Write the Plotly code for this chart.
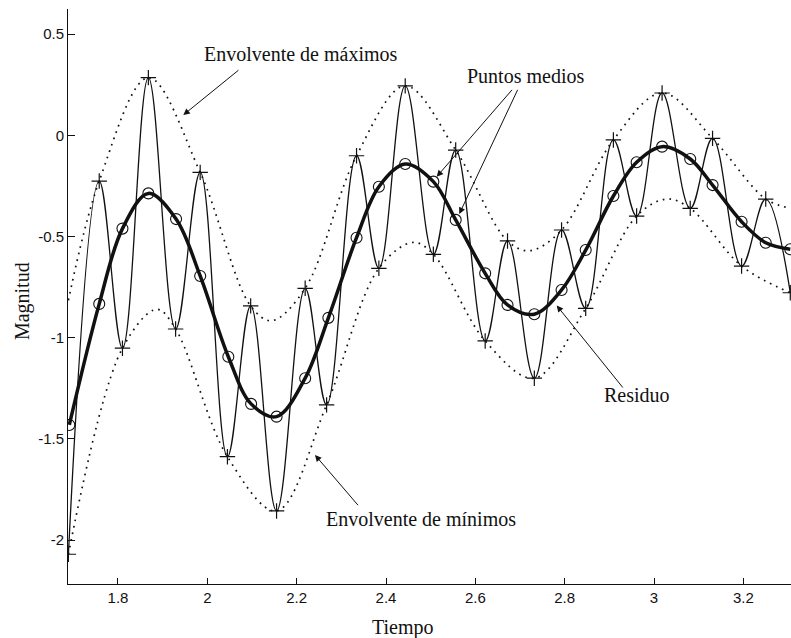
import plotly.graph_objects as go

# Señal: extremos (incluye los puntos extremos del intervalo)
t_extremos = [1.689, 1.758, 1.810, 1.868, 1.929, 1.984, 2.045, 2.097, 2.155, 2.219,
              2.267, 2.334, 2.384, 2.443, 2.506, 2.556, 2.622, 2.672, 2.732, 2.793,
              2.847, 2.909, 2.961, 3.018, 3.081, 3.131, 3.196, 3.250, 3.305]
y_extremos = [-2.070, -0.226, -1.052, 0.285, -0.957, -0.183, -1.588, -0.843, -1.856, -0.756,
              -1.332, -0.101, -0.657, 0.244, -0.588, -0.073, -1.016, -0.522, -1.200, -0.468,
              -0.855, -0.023, -0.399, 0.209, -0.361, -0.015, -0.646, -0.315, -0.778]

# Puntos medios (residuo)
t_medios = [1.691, 1.758, 1.810, 1.868, 1.930, 1.984, 2.047, 2.098, 2.155, 2.219,
            2.271, 2.334, 2.384, 2.443, 2.506, 2.556, 2.622, 2.672, 2.732, 2.793,
            2.847, 2.909, 2.961, 3.018, 3.081, 3.131, 3.196, 3.250, 3.305]
y_medios = [-1.431, -0.833, -0.461, -0.287, -0.414, -0.695, -1.094, -1.327, -1.390, -1.200,
            -0.902, -0.506, -0.254, -0.142, -0.229, -0.418, -0.682, -0.838, -0.884, -0.764,
            -0.567, -0.300, -0.133, -0.056, -0.117, -0.246, -0.427, -0.531, -0.563]

# Envolvente de máximos
t_env_max = [1.689, 1.758, 1.868, 1.984, 2.097, 2.144, 2.219, 2.334, 2.443, 2.556,
             2.672, 2.722, 2.793, 2.909, 3.018, 3.131, 3.250, 3.305]
y_env_max = [-0.815, -0.226, 0.285, -0.183, -0.843, -0.916, -0.756, -0.101, 0.244, -0.073,
             -0.522, -0.570, -0.468, -0.023, 0.209, -0.015, -0.315, -0.360]

# Envolvente de mínimos
t_env_min = [1.689, 1.810, 1.887, 1.929, 2.045, 2.155, 2.267, 2.384, 2.461, 2.506,
             2.622, 2.732, 2.847, 2.961, 3.028, 3.081, 3.196, 3.305]
y_env_min = [-2.070, -1.052, -0.860, -0.957, -1.588, -1.856, -1.332, -0.657, -0.529, -0.588,
             -1.016, -1.200, -0.855, -0.399, -0.315, -0.361, -0.646, -0.778]

x_ticks = [1.8, 2.0, 2.2, 2.4, 2.6, 2.8, 3.0, 3.2]
x_tick_labels = ["1.8", "2", "2.2", "2.4", "2.6", "2.8", "3", "3.2"]
y_ticks = [0.5, 0.0, -0.5, -1.0, -1.5, -2.0]
y_tick_labels = ["0.5", "0", "-0.5", "-1", "-1.5", "-2"]

SERIF = "Liberation Serif, Times New Roman, serif"
SANS = "Liberation Sans, Arial, sans-serif"
INK = "#111111"

fig = go.Figure()

fig.add_trace(go.Scatter(
    x=t_env_max, y=y_env_max, mode="lines",
    line=dict(color=INK, width=1.7, dash="1.7px,5px", shape="spline", smoothing=1.0),
    hoverinfo="skip"))
fig.add_trace(go.Scatter(
    x=t_env_min, y=y_env_min, mode="lines",
    line=dict(color=INK, width=1.7, dash="1.7px,5px", shape="spline", smoothing=1.0),
    hoverinfo="skip"))
fig.add_trace(go.Scatter(
    x=t_extremos, y=y_extremos, mode="lines+markers",
    line=dict(color=INK, width=1.3, shape="spline", smoothing=1.1),
    marker=dict(symbol="cross-thin-open", size=11, color=INK, line=dict(color=INK, width=1.2))))
fig.add_trace(go.Scatter(
    x=t_medios, y=y_medios, mode="lines+markers",
    line=dict(color=INK, width=3.5, shape="spline", smoothing=1.0),
    marker=dict(symbol="circle-open", size=11, color=INK, line=dict(color=INK, width=1.1))))

def texto(x, y, s):
    fig.add_annotation(x=x, y=y, xref="x", yref="y", text=s, showarrow=False,
                       xanchor="center", yanchor="middle",
                       font=dict(family=SERIF, size=20, color=INK))

def flecha(x0, y0, x1, y1):
    fig.add_annotation(x=x1, y=y1, ax=x0, ay=y0, xref="x", yref="y", axref="x", ayref="y",
                       text="", showarrow=True, arrowhead=2, arrowsize=1.3, arrowwidth=1,
                       arrowcolor=INK, standoff=0, startstandoff=0)

texto(2.2092, 0.403, "Envolvente de máximos")
flecha(2.0731, 0.3276, 1.9462, 0.1003)

texto(2.7119, 0.2915, "Puntos medios")
flecha(2.685, 0.232, 2.5135, -0.2045)
flecha(2.6962, 0.232, 2.564, -0.3888)

texto(2.9612, -1.2816, "Residuo")
flecha(2.9328, -1.2535, 2.7821, -0.841)

texto(2.4781, -1.8957, "Envolvente de mínimos")
flecha(2.3402, -1.835, 2.241, -1.5795)

fig.add_annotation(x=0.4633, y=-0.0748, xref="paper", yref="paper", text="Tiempo",
                   showarrow=False, xanchor="center", yanchor="middle",
                   font=dict(family=SERIF, size=20, color=INK))
fig.add_annotation(x=-0.0636, y=0.492, xref="paper", yref="paper", text="Magnitud",
                   showarrow=False, xanchor="center", yanchor="middle", textangle=-90,
                   font=dict(family=SERIF, size=20, color=INK))

axis_common = dict(showline=True, linecolor=INK, linewidth=1, mirror=False,
                   ticks="inside", tickcolor=INK, tickwidth=1, showgrid=False,
                   zeroline=False, tickfont=dict(family=SANS, size=15, color=INK))

fig.update_layout(
    width=791, height=638,
    margin=dict(l=68, r=0, t=9, b=54),
    paper_bgcolor="white", plot_bgcolor="white",
    showlegend=False,
    xaxis=dict(range=[1.6881, 3.3066], tickvals=x_ticks, ticktext=x_tick_labels,
               ticklen=6, **axis_common),
    yaxis=dict(range=[-2.2169, 0.624], tickvals=y_ticks, ticktext=y_tick_labels,
               ticklen=7, **axis_common),
)

fig.write_html("out.html")
